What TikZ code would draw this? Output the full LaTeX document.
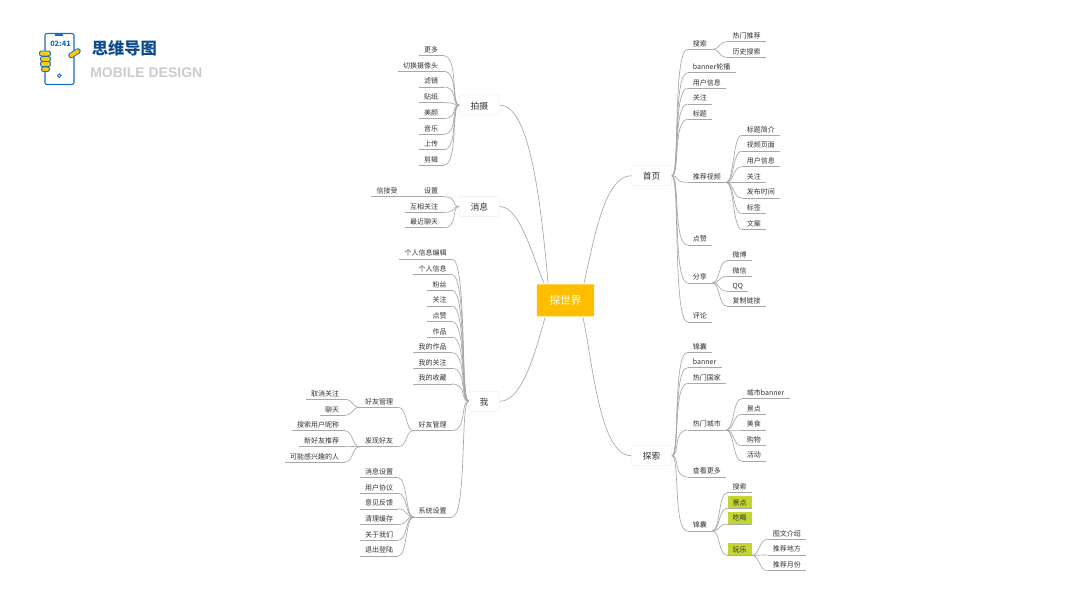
\documentclass[tikz,border=0pt]{standalone}
\usepackage{fontspec}
\setmainfont{Noto Sans CJK SC}
\newfontfamily\latinbold{Liberation Sans}
\usepackage{xcolor}
\usepackage{tikz}
\definecolor{rootyellow}{HTML}{FFBF00}
\definecolor{markgreen}{HTML}{C2D530}
\definecolor{iconblue}{HTML}{1B6DBF}
\definecolor{fingeryellow}{HTML}{F8CB14}
\definecolor{titleblue}{HTML}{0F4C8C}
\definecolor{titlegray}{HTML}{CCCCCC}
\definecolor{linegray}{HTML}{A8A8A8}
\definecolor{textgray}{HTML}{333333}
\definecolor{boxgray}{HTML}{F2F2F2}

\begin{document}
\begin{tikzpicture}[
    x=0.75pt, y=-0.75pt,
    root/.style={rectangle, fill=rootyellow, text=white, minimum width=43pt, minimum height=24pt, inner sep=0pt, rounded corners=0.5pt, font=\fontsize{8}{10}\selectfont},
    topic/.style={rectangle, draw=boxgray, fill=white, text=textgray, minimum width=30pt, minimum height=15pt, inner sep=0pt, rounded corners=1pt, text height=6.2pt, text depth=0pt, font=\fontsize{6.6}{8}\selectfont},
    leaf/.style={rectangle, text=textgray, minimum height=9pt, inner xsep=3.75pt, inner ysep=0pt, text height=4.8pt, text depth=0pt, font=\fontsize{5.25}{7}\selectfont, append after command={(\tikzlastnode.south west) edge[linegray, line width=0.5pt] (\tikzlastnode.south east)}},
    leafl/.style={leaf, anchor=south east},
    leafr/.style={leaf, anchor=south west},
    hilite/.style={fill=markgreen},
    linkl/.style={linegray, line width=0.5pt, to path={.. controls +(-8,0) and +(15,0) .. (\tikztotarget)}},
    linkr/.style={linegray, line width=0.5pt, to path={.. controls +(8,0) and +(-15,0) .. (\tikztotarget)}},
    sublinkl/.style={linegray, line width=0.5pt, to path={.. controls +(-8,0) and +(9,0) .. (\tikztotarget)}},
    sublinkr/.style={linegray, line width=0.5pt, to path={.. controls +(8,0) and +(-9,0) .. (\tikztotarget)}},
    link/.style={linegray, line width=0.5pt},
    phoneline/.style={draw=iconblue, line width=0.8pt},
    finger/.style={draw=iconblue, fill=fingeryellow, line width=0.7pt, rounded corners=1.5pt},
]
    \useasboundingbox (0,0) rectangle (1067,600);

    \draw[phoneline, rounded corners=1.5pt] (45,33.5) rectangle (74,84.5);
    \fill[iconblue] (55,33.5) rectangle (63,35.5);
    \draw[phoneline, line width=0.7pt] (59.3,75.7) circle (1.8);
    \draw[finger] (39.5,51) rectangle (50.5,56);
    \draw[finger] (40.5,56.5) rectangle (50.5,61.5);
    \draw[finger] (40.5,61.5) rectangle (50.5,66.5);
    \draw[finger] (41.5,67) rectangle (49.5,71.5);
    \draw[iconblue, line width=4.2pt, line cap=round] (71,55.5) -- (78,51);
    \draw[fingeryellow, line width=2.8pt, line cap=round] (71,55.5) -- (78,51);
    \node[text=iconblue, inner sep=0pt, font=\fontsize{5.5}{7}\selectfont\bfseries] (clock) at (60.5,43.5) {02:41};
    \node[text=titleblue, inner sep=0pt, anchor=west, font=\fontsize{12.2}{15}\selectfont\bfseries] (title) at (91.5,48) {思维导图};
    \node[text=titlegray, inner sep=0pt, anchor=west, font=\fontsize{10.5}{13}\selectfont\latinbold\bfseries] (subtitle) at (90,72.5) {MOBILE DESIGN};

    \node[root] (tanshijie) at (565.5,300.3) {探世界};
    \node[topic] (paishe) at (479.3,105) {拍摄};
    \node[topic] (xiaoxi) at (479.3,206.5) {消息};
    \node[topic, minimum width=23pt] (wo) at (484,401.3) {我};
    \node[topic] (shouye) at (651.7,175.7) {首页};
    \node[topic] (tansuo) at (651.7,455.7) {探索};

    \coordinate (endpaishe) at (548,283);
    \coordinate (endxiaoxi) at (544,283);
    \coordinate (endwo) at (545,317.5);
    \coordinate (endshouye) at (584,283);
    \coordinate (endtansuo) at (583,317.5);
    \draw[link] (paishe.east) .. controls (528,105) and (540,190) .. (endpaishe);
    \draw[link] (xiaoxi.east) .. controls (520,206.5) and (532,255) .. (endxiaoxi);
    \draw[link] (wo.east) .. controls (520,401.3) and (533,362) .. (endwo);
    \draw[link] (shouye.west) .. controls (605,175.7) and (595,235) .. (endshouye);
    \draw[link] (tansuo.west) .. controls (600,455.7) and (593,365) .. (endtansuo);

    \node[leafl] (gengduo) at (443.5,55.7) {更多};
    \node[leafl] (qiehuan) at (443.5,71.3) {切换摄像头};
    \node[leafl] (lvjing) at (443.5,87) {滤镜};
    \node[leafl] (tiezhi) at (443.5,102.7) {贴纸};
    \node[leafl] (meiyan) at (443.5,118.5) {美颜};
    \node[leafl] (yinyue) at (443.5,134.2) {音乐};
    \node[leafl] (shangchuan) at (443.5,149.8) {上传};
    \node[leafl] (jianji) at (443.5,165.3) {剪辑};
    \draw[linkl] (paishe.west) to (gengduo.south east);
    \draw[linkl] (paishe.west) to (qiehuan.south east);
    \draw[linkl] (paishe.west) to (lvjing.south east);
    \draw[linkl] (paishe.west) to (tiezhi.south east);
    \draw[linkl] (paishe.west) to (meiyan.south east);
    \draw[linkl] (paishe.west) to (yinyue.south east);
    \draw[linkl] (paishe.west) to (shangchuan.south east);
    \draw[linkl] (paishe.west) to (jianji.south east);

    \node[leafl] (shezhi) at (443.5,196.7) {信接受\hspace{20pt}设置};
    \node[leafl] (huxiang) at (443.5,212.3) {互相关注};
    \node[leafl] (liaotian) at (443.5,227.8) {最近聊天};
    \draw[linkl] (xiaoxi.west) to (shezhi.south east);
    \draw[linkl] (xiaoxi.west) to (huxiang.south east);
    \draw[linkl] (xiaoxi.west) to (liaotian.south east);

    \node[leafl] (bianji) at (452,259) {个人信息编辑};
    \node[leafl] (gerenxinxi) at (452,274.7) {个人信息};
    \node[leafl] (fensi) at (452,290.3) {粉丝};
    \node[leafl] (woguanzhu) at (452,306) {关注};
    \node[leafl] (wodianzan) at (452,321.6) {点赞};
    \node[leafl] (zuopin) at (452,337.1) {作品};
    \node[leafl] (wodezuopin) at (452,352.7) {我的作品};
    \node[leafl] (wodeguanzhu) at (452,368.3) {我的关注};
    \node[leafl] (shoucang) at (452,384) {我的收藏};
    \node[leafl] (haoyou) at (452,430.7) {好友管理};
    \node[leafl] (xitong) at (452,517) {系统设置};
    \draw[linkl] (wo.west) to (bianji.south east);
    \draw[linkl] (wo.west) to (gerenxinxi.south east);
    \draw[linkl] (wo.west) to (fensi.south east);
    \draw[linkl] (wo.west) to (woguanzhu.south east);
    \draw[linkl] (wo.west) to (wodianzan.south east);
    \draw[linkl] (wo.west) to (zuopin.south east);
    \draw[linkl] (wo.west) to (wodezuopin.south east);
    \draw[linkl] (wo.west) to (wodeguanzhu.south east);
    \draw[linkl] (wo.west) to (shoucang.south east);
    \draw[linkl] (wo.west) to (haoyou.south east);
    \draw[linkl] (wo.west) to (xitong.south east);

    \node[leafl] (haoyouguanli) at (398.3,407.3) {好友管理};
    \node[leafl] (faxian) at (398.3,446.7) {发现好友};
    \draw[sublinkl] (haoyou.south west) to (haoyouguanli.south east);
    \draw[sublinkl] (haoyou.south west) to (faxian.south east);
    \node[leafl] (quxiao) at (344.5,399.3) {取消关注};
    \node[leafl] (liao) at (344.5,415.3) {聊天};
    \draw[sublinkl] (haoyouguanli.south west) to (quxiao.south east);
    \draw[sublinkl] (haoyouguanli.south west) to (liao.south east);
    \node[leafl] (nicheng) at (344.5,430.7) {搜索用户昵称};
    \node[leafl] (xinhaoyou) at (344.5,446.3) {新好友推荐};
    \node[leafl] (ganxingqu) at (344.5,462.3) {可能感兴趣的人};
    \draw[sublinkl] (faxian.south west) to (nicheng.south east);
    \draw[sublinkl] (faxian.south west) to (xinhaoyou.south east);
    \draw[sublinkl] (faxian.south west) to (ganxingqu.south east);

    \node[leafl] (xiaoxishezhi) at (398.3,477.7) {消息设置};
    \node[leafl] (xieyi) at (398.3,493.3) {用户协议};
    \node[leafl] (yijian) at (398.3,508.9) {意见反馈};
    \node[leafl] (huancun) at (398.3,524.6) {清理缓存};
    \node[leafl] (guanyu) at (398.3,540.3) {关于我们};
    \node[leafl] (tuichu) at (398.3,556) {退出登陆};
    \draw[sublinkl] (xitong.south west) to (xiaoxishezhi.south east);
    \draw[sublinkl] (xitong.south west) to (xieyi.south east);
    \draw[sublinkl] (xitong.south west) to (yijian.south east);
    \draw[sublinkl] (xitong.south west) to (huancun.south east);
    \draw[sublinkl] (xitong.south west) to (guanyu.south east);
    \draw[sublinkl] (xitong.south west) to (tuichu.south east);

    \node[leafr] (sousuo) at (687.7,49.3) {搜索};
    \node[leafr] (lunbo) at (687.7,72.7) {banner轮播};
    \node[leafr] (yonghu) at (687.7,88.3) {用户信息};
    \node[leafr] (guanzhu) at (687.7,104) {关注};
    \node[leafr] (biaoti) at (687.7,119.4) {标题};
    \node[leafr] (tuijian) at (687.7,182.3) {推荐视频};
    \node[leafr] (dianzan) at (687.7,245) {点赞};
    \node[leafr] (fenxiang) at (687.7,283) {分享};
    \node[leafr] (pinglun) at (687.7,322) {评论};
    \draw[linkr] (shouye.east) to (sousuo.south west);
    \draw[linkr] (shouye.east) to (lunbo.south west);
    \draw[linkr] (shouye.east) to (yonghu.south west);
    \draw[linkr] (shouye.east) to (guanzhu.south west);
    \draw[linkr] (shouye.east) to (biaoti.south west);
    \draw[linkr] (shouye.east) to (tuijian.south west);
    \draw[linkr] (shouye.east) to (dianzan.south west);
    \draw[linkr] (shouye.east) to (fenxiang.south west);
    \draw[linkr] (shouye.east) to (pinglun.south west);

    \node[leafr] (remen) at (727.3,41.7) {热门推荐};
    \node[leafr] (lishi) at (727.3,57.3) {历史搜索};
    \draw[sublinkr] (sousuo.south east) to (remen.south west);
    \draw[sublinkr] (sousuo.south east) to (lishi.south west);

    \node[leafr] (jianjie) at (741.7,135.3) {标题简介};
    \node[leafr] (yemian) at (741.7,151) {视频页面};
    \node[leafr] (spyonghu) at (741.7,166.7) {用户信息};
    \node[leafr] (spguanzhu) at (741.7,182.3) {关注};
    \node[leafr] (fabu) at (741.7,198) {发布时间};
    \node[leafr] (biaoqian) at (741.7,213.7) {标签};
    \node[leafr] (wenan) at (741.7,229.3) {文案};
    \draw[sublinkr] (tuijian.south east) to (jianjie.south west);
    \draw[sublinkr] (tuijian.south east) to (yemian.south west);
    \draw[sublinkr] (tuijian.south east) to (spyonghu.south west);
    \draw[sublinkr] (tuijian.south east) to (spguanzhu.south west);
    \draw[sublinkr] (tuijian.south east) to (fabu.south west);
    \draw[sublinkr] (tuijian.south east) to (biaoqian.south west);
    \draw[sublinkr] (tuijian.south east) to (wenan.south west);

    \node[leafr] (weibo) at (727.3,260.7) {微博};
    \node[leafr] (weixin) at (727.3,276.3) {微信};
    \node[leafr] (qq) at (727.3,291.3) {QQ};
    \node[leafr] (fuzhi) at (727.3,306.3) {复制链接};
    \draw[sublinkr] (fenxiang.south east) to (weibo.south west);
    \draw[sublinkr] (fenxiang.south east) to (weixin.south west);
    \draw[sublinkr] (fenxiang.south east) to (qq.south west);
    \draw[sublinkr] (fenxiang.south east) to (fuzhi.south west);

    \node[leafr] (jinnang) at (687.7,352.3) {锦囊};
    \node[leafr] (banner) at (687.7,367.7) {banner};
    \node[leafr] (guojia) at (687.7,383.3) {热门国家};
    \node[leafr] (chengshi) at (687.7,430) {热门城市};
    \node[leafr] (chakan) at (687.7,477) {查看更多};
    \node[leafr] (jinnangb) at (687.7,531) {锦囊};
    \draw[linkr] (tansuo.east) to (jinnang.south west);
    \draw[linkr] (tansuo.east) to (banner.south west);
    \draw[linkr] (tansuo.east) to (guojia.south west);
    \draw[linkr] (tansuo.east) to (chengshi.south west);
    \draw[linkr] (tansuo.east) to (chakan.south west);
    \draw[linkr] (tansuo.east) to (jinnangb.south west);

    \node[leafr] (csbanner) at (741.7,398.7) {城市banner};
    \node[leafr] (jingdian) at (741.7,414.3) {景点};
    \node[leafr] (meishi) at (741.7,430) {美食};
    \node[leafr] (gouwu) at (741.7,445.7) {购物};
    \node[leafr] (huodong) at (741.7,461) {活动};
    \draw[sublinkr] (chengshi.south east) to (csbanner.south west);
    \draw[sublinkr] (chengshi.south east) to (jingdian.south west);
    \draw[sublinkr] (chengshi.south east) to (meishi.south west);
    \draw[sublinkr] (chengshi.south east) to (gouwu.south west);
    \draw[sublinkr] (chengshi.south east) to (huodong.south west);

    \node[leafr] (jnsousuo) at (727.3,492.7) {搜索};
    \node[leafr, hilite] (jnjingdian) at (727.3,508.3) {景点};
    \node[leafr, hilite] (chihe) at (727.3,524) {吃喝};
    \node[leafr, hilite] (wanle) at (727.3,555.3) {玩乐};
    \draw[sublinkr] (jinnangb.south east) to (jnsousuo.south west);
    \draw[sublinkr] (jinnangb.south east) to (jnjingdian.south west);
    \draw[sublinkr] (jinnangb.south east) to (chihe.south west);
    \draw[sublinkr] (jinnangb.south east) to (wanle.south west);

    \node[leafr] (tuwen) at (767.7,539.3) {图文介绍};
    \node[leafr] (didian) at (767.7,555) {推荐地方};
    \node[leafr] (yuefen) at (767.7,570.7) {推荐月份};
    \draw[sublinkr] (wanle.south east) to (tuwen.south west);
    \draw[sublinkr] (wanle.south east) to (didian.south west);
    \draw[sublinkr] (wanle.south east) to (yuefen.south west);
\end{tikzpicture}
\end{document}
